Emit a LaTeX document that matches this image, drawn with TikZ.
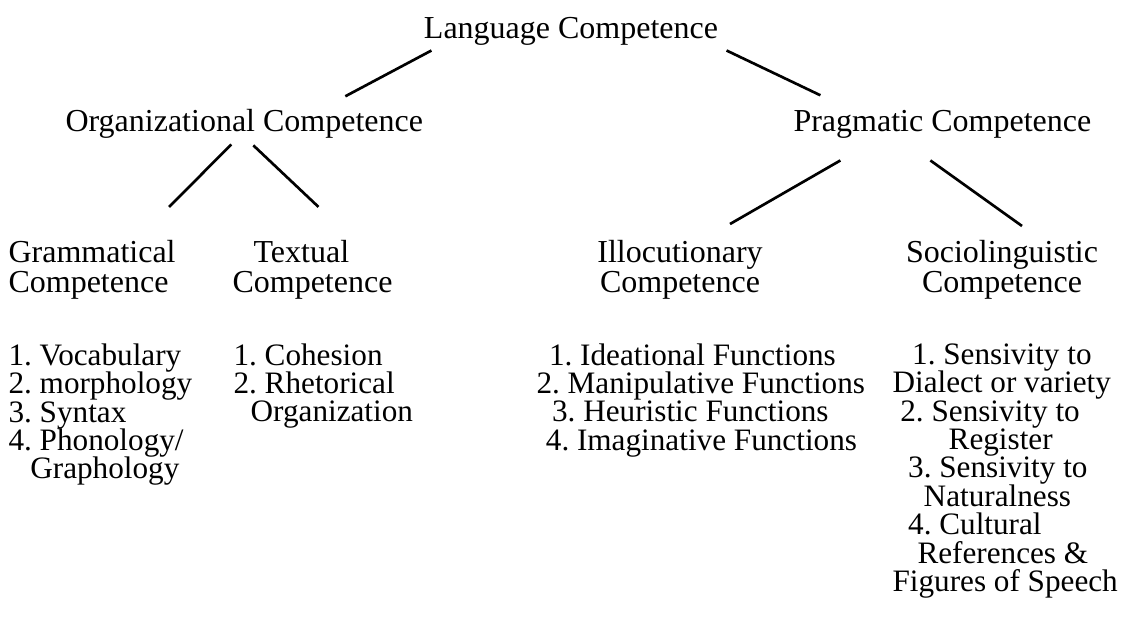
\documentclass[tikz,border=0pt]{standalone}
\usepackage{fontspec}
\setmainfont{Liberation Serif}
\usetikzlibrary{positioning}
\setlength{\lineskiplimit}{-20pt}

\begin{document}
\begin{tikzpicture}[x=0.375pt, y=-0.375pt]
\tikzstyle{head}=[inner sep=0pt, font=\frenchspacing\fontsize{12}{11.2}\selectfont]
\tikzstyle{items}=[inner sep=0pt, align=left, anchor=north west, font=\frenchspacing\fontsize{11.7}{10.65}\selectfont]
\tikzstyle{connect}=[line width=1pt, draw=black]
  \useasboundingbox (0,0) rectangle (1126,616);
  \node[head, anchor=base] (lang) at (571,38) {Language Competence};
  \node[head, anchor=base west] (org) at (65,131) {Organizational Competence};
  \node[head, anchor=base west] (prag) at (793,131) {Pragmatic Competence};
  \node[head, align=left, anchor=north west] (gram) at (8,240) {Grammatical\\Competence};
  \node[head, align=left, anchor=north west] (text) at (232,240) {\hspace*{0.66em}Textual\\Competence};
  \node[head, align=center, anchor=north] (illoc) at (680,240) {Illocutionary\\Competence};
  \node[head, align=center, anchor=north] (socio) at (1002,240) {Sociolinguistic\\Competence};
  \node[items] (gramlist) at (8,343)
    {1. Vocabulary\\2. morphology\\3. Syntax\\4. Phonology/\\\hspace*{0.7em}Graphology};
  \node[items] (textlist) at (233,343)
    {1. Cohesion\\2. Rhetorical\\\hspace*{0.55em}Organization};
  \node[items] (illoclist) at (536,343)
    {\hspace*{0.4em}1. Ideational Functions\\2. Manipulative Functions\\\hspace*{0.5em}3. Heuristic Functions\\\hspace*{0.3em}4. Imaginative Functions};
  \node[items] (sociolist) at (892,343)
    {\hspace*{0.63em}1. Sensivity to\\Dialect or variety\\\hspace*{0.25em}2. Sensivity to\\\hspace*{1.8em}Register\\\hspace*{0.5em}3. Sensivity to\\\hspace*{1em}Naturalness\\\hspace*{0.5em}4. Cultural\\\hspace*{0.8em}References \&\\Figures of Speech};
  \path ([xshift=3pt,yshift=-1.9pt]lang.south west) edge [connect] ([xshift=37.9pt,yshift=4.5pt]org.north)
        ([xshift=3pt,yshift=-1.9pt]lang.south east) edge [connect] ([xshift=-45.75pt,yshift=5.25pt]prag.north)
        ([xshift=-4.9pt,yshift=-2.25pt]org.south) edge [connect] ([xshift=-2.6pt,yshift=12.4pt]gram.north east)
        ([xshift=3.4pt,yshift=-2.6pt]org.south) edge [connect] ([xshift=2.25pt,yshift=12.4pt]text.north)
        ([xshift=-38.25pt,yshift=-8.25pt]prag.south) edge [connect] ([xshift=18.75pt,yshift=6pt]illoc.north)
        ([xshift=-4.5pt,yshift=-8.25pt]prag.south) edge [connect] ([xshift=7.5pt,yshift=5.25pt]socio.north);
\end{tikzpicture}
\end{document}
